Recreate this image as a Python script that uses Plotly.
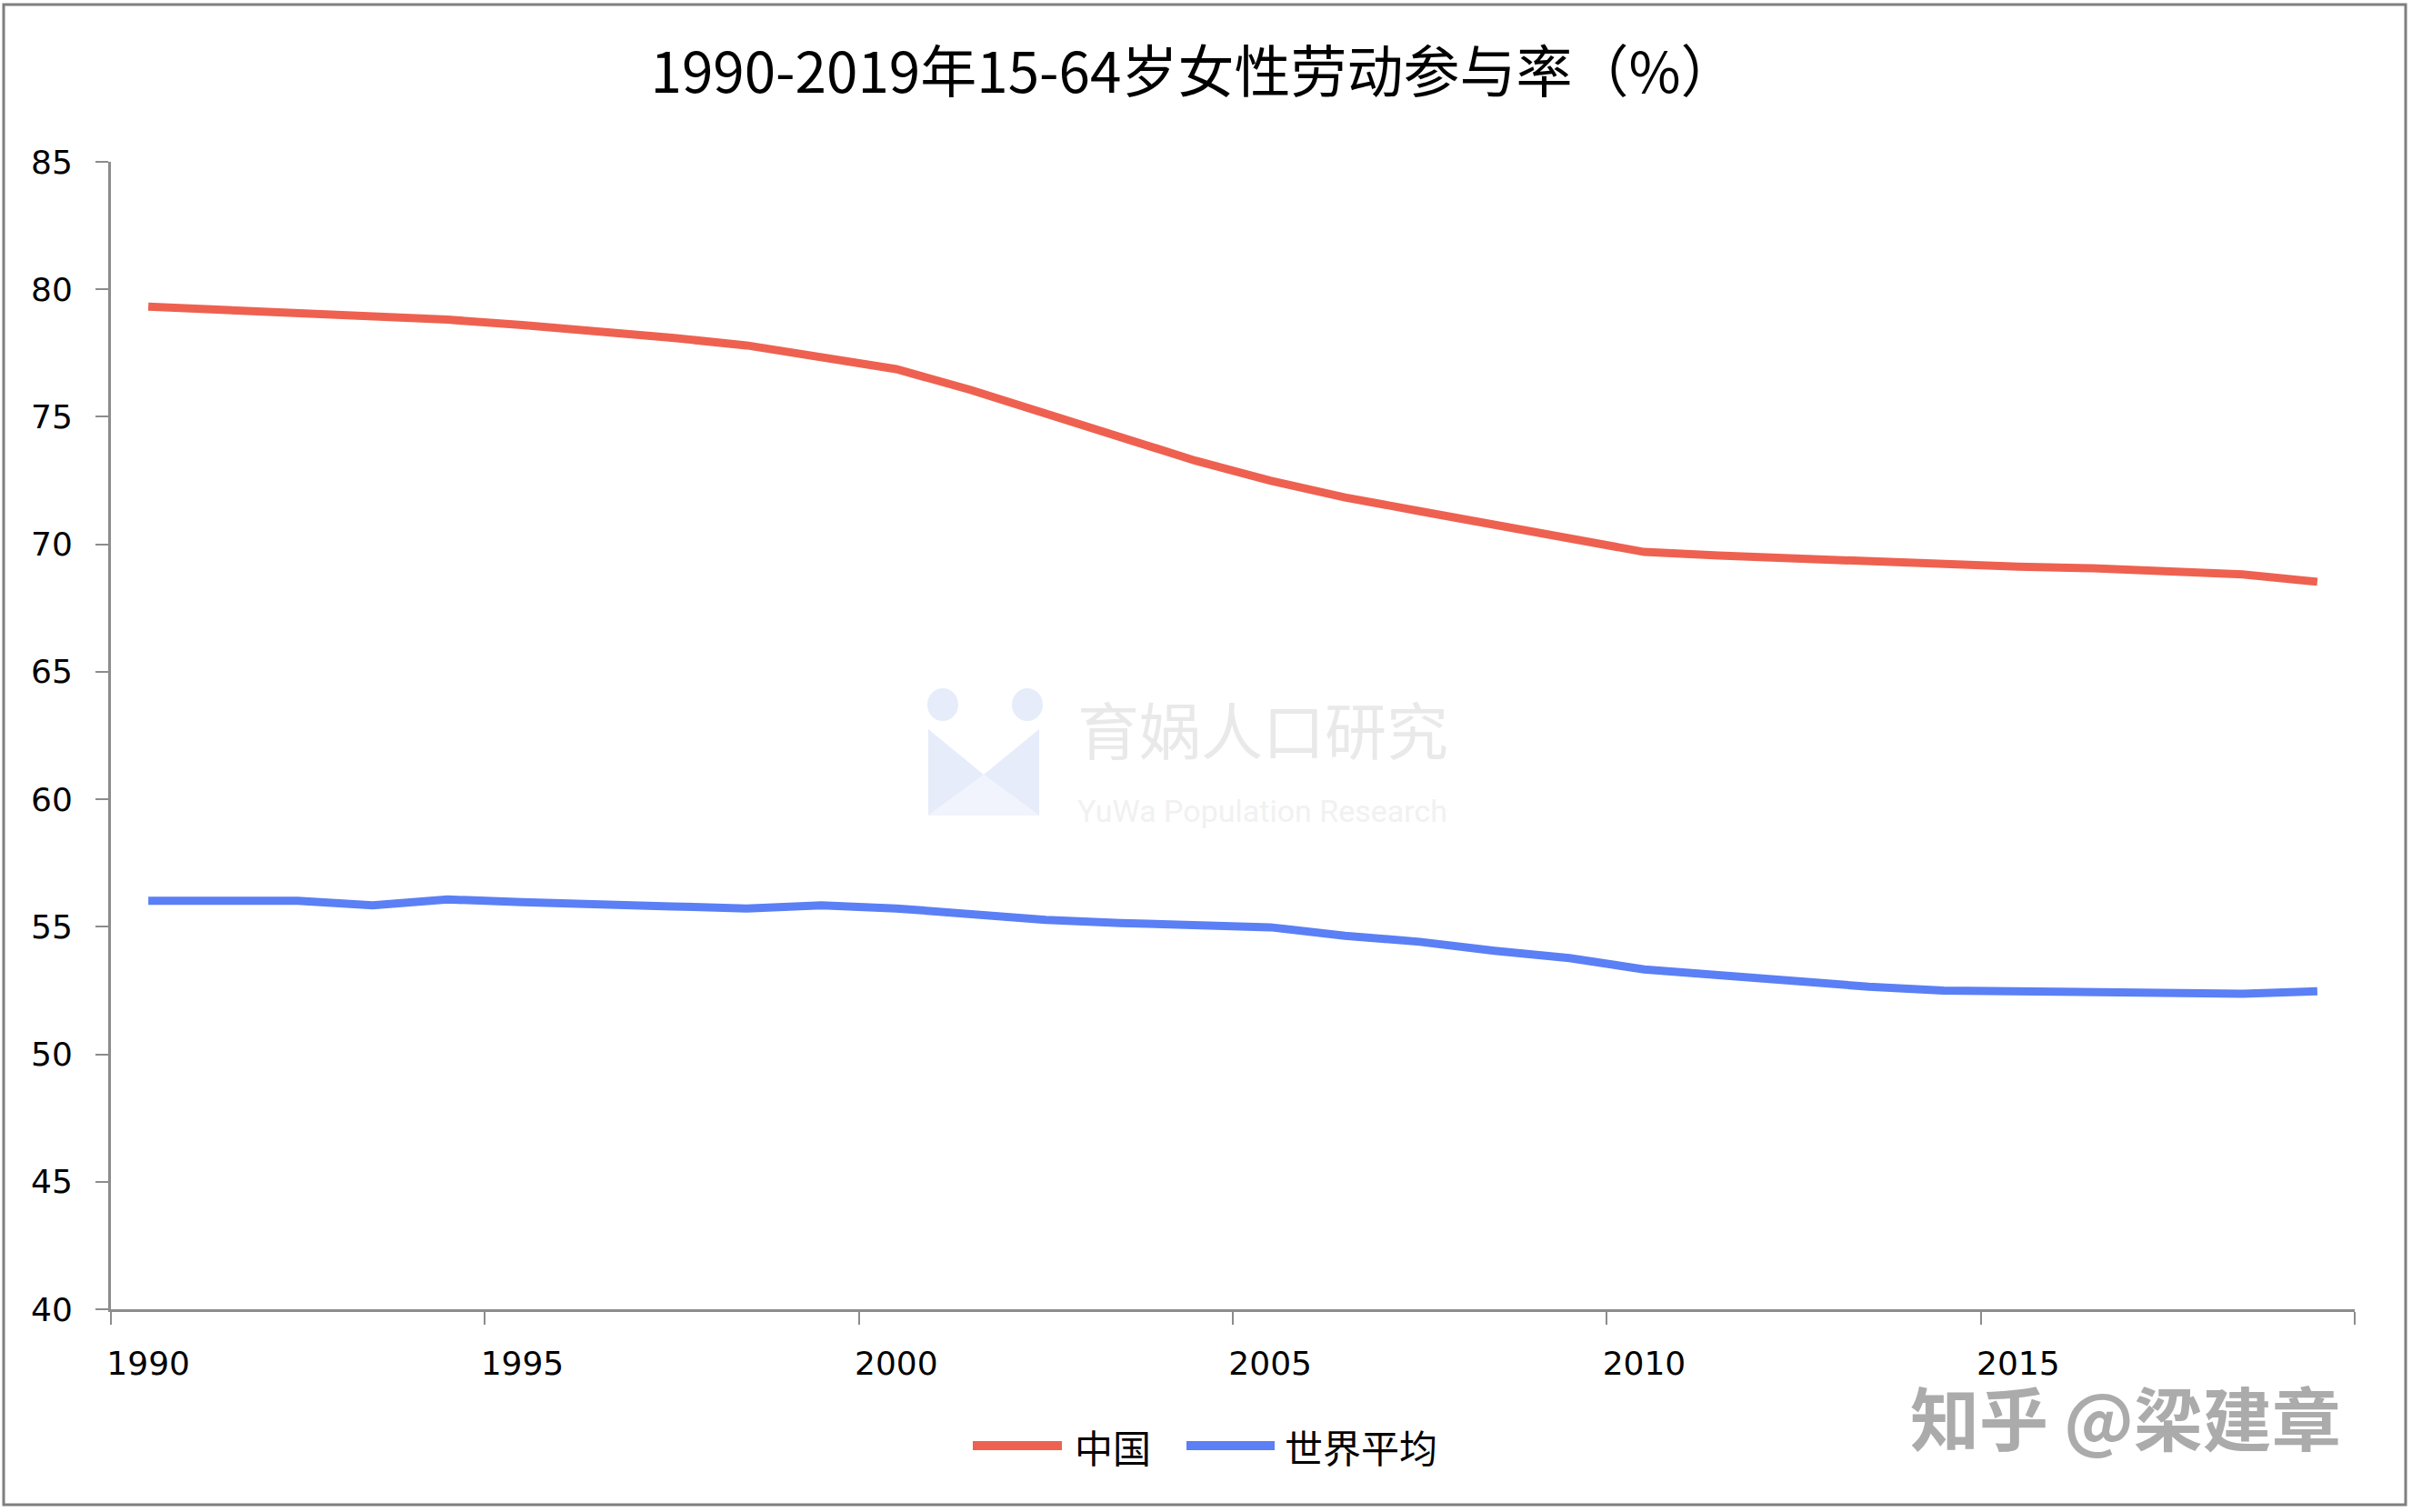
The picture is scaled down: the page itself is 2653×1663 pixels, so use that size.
import plotly.graph_objects as go

years = list(range(1990, 2020))
china = [79.32, 79.20, 79.07, 78.94, 78.81, 78.60, 78.39, 78.10, 77.80, 77.35,
         76.87, 76.05, 75.12, 74.20, 73.28, 72.50, 71.84, 71.30, 70.75, 70.25,
         69.70, 69.56, 69.44, 69.32, 69.20, 69.12, 69.06, 68.94, 68.82, 68.53]
world = [56.02, 56.02, 56.02, 55.84, 56.07, 55.97, 55.86, 55.80, 55.72, 55.84,
         55.72, 55.50, 55.27, 55.15, 55.05, 54.98, 54.65, 54.41, 54.06, 53.77,
         53.33, 53.08, 52.83, 52.65, 52.50, 52.46, 52.42, 52.40, 52.37, 52.47]
series_names = ["中国", "世界平均"]
series_colors = ["#EE6150", "#5B7FF5"]
xlabel_years = [1990, 1995, 2000, 2005, 2010, 2015]
y_ticks = [40, 45, 50, 55, 60, 65, 70, 75, 80, 85]
title_text = "1990-2019年15-64岁女性劳动参与率（%）"

W, H = 2653, 1663
L, R, T, B = 122, 63, 178, 223
PW, PH = W - L - R, H - T - B


def px(x):
    return (x - L) / PW


def py(y):
    return (H - B - y) / PH


fig = go.Figure()
for name, vals, col in zip(series_names, [china, world], series_colors):
    fig.add_trace(go.Scatter(x=years, y=vals, mode="lines", name=name,
                             line=dict(color=col, width=9), showlegend=False))

axis_col = "#8C8C8C"
fig.update_layout(
    width=W, height=H,
    margin=dict(l=L, r=R, t=T, b=B),
    paper_bgcolor="white", plot_bgcolor="white",
    title=dict(text=title_text, x=1313 / W, xanchor="center", y=1 - 80 / H, yanchor="middle",
               font=dict(family="Noto Sans CJK SC", size=62, color="black")),
    xaxis=dict(range=[1989.5, 2019.5], tickvals=xlabel_years, ticktext=[str(v) for v in xlabel_years],
               ticks="", showgrid=False, zeroline=False,
               showline=True, linecolor=axis_col, linewidth=3,
               tickfont=dict(family="DejaVu Sans", size=36, color="black"),
               ticklabelstandoff=26,
               minor=dict(tickvals=[1989.5 + 5 * i for i in range(7)], ticks="outside",
                          ticklen=14, tickwidth=2, tickcolor=axis_col, showgrid=False)),
    yaxis=dict(range=[40, 85], tickvals=y_ticks, ticks="outside", ticklen=14, tickwidth=2,
               tickcolor=axis_col, showgrid=False, zeroline=False,
               showline=True, linecolor=axis_col, linewidth=3,
               tickfont=dict(family="DejaVu Sans", size=36, color="black"),
               ticklabelstandoff=18),
    showlegend=False,
)

# custom legend (line samples + labels)
legend_items = [(1070, 1168, 1180), (1305, 1402, 1411)]
for (lx0, lx1, tx), name, col in zip(legend_items, series_names, series_colors):
    fig.add_shape(type="line", xref="paper", yref="paper", x0=px(lx0), x1=px(lx1),
                  y0=py(1590), y1=py(1590), line=dict(color=col, width=10))
    fig.add_annotation(text=name, xref="paper", yref="paper", x=px(tx), xanchor="left",
                       y=py(1590), yanchor="middle", showarrow=False,
                       font=dict(family="Noto Sans CJK SC", size=42, color="black"))

# outer border
fig.add_shape(type="rect", xref="paper", yref="paper",
              x0=px(4), x1=px(2646), y0=py(1655), y1=py(5),
              line=dict(color="#7F7F7F", width=3), fillcolor="rgba(0,0,0,0)", layer="below")

# watermark logo (faint)
logo = "#E6ECFA"
for cx in (1037, 1130):
    fig.add_shape(type="circle", xref="paper", yref="paper",
                  x0=px(cx - 17), x1=px(cx + 17), y0=py(793), y1=py(757),
                  line=dict(width=0), fillcolor=logo, layer="below")
fig.add_shape(type="path", xref="paper", yref="paper", layer="below",
              path=f"M {px(1021)} {py(802)} L {px(1082)} {py(852)} L {px(1021)} {py(897)} Z",
              line=dict(width=0), fillcolor=logo)
fig.add_shape(type="path", xref="paper", yref="paper", layer="below",
              path=f"M {px(1143)} {py(802)} L {px(1082)} {py(852)} L {px(1143)} {py(897)} Z",
              line=dict(width=0), fillcolor=logo)
fig.add_shape(type="path", xref="paper", yref="paper", layer="below",
              path=f"M {px(1021)} {py(897)} L {px(1082)} {py(852)} L {px(1143)} {py(897)} Z",
              line=dict(width=0), fillcolor="#F1F4FC")

fig.add_annotation(text="育娲人口研究", xref="paper", yref="paper", x=px(1183), xanchor="left",
                   y=py(800), yanchor="middle", showarrow=False,
                   font=dict(family="Noto Sans CJK SC", size=68, color="#E9E9E9"))
fig.add_annotation(text="YuWa Population Research", xref="paper", yref="paper", x=px(1183), xanchor="left",
                   y=py(892), yanchor="middle", showarrow=False,
                   font=dict(family="Roboto", size=34, color="#F1F1F1"))
fig.add_annotation(text="<b>知乎 @梁建章</b>", xref="paper", yref="paper", x=px(2338), xanchor="center",
                   y=py(1557), yanchor="middle", showarrow=False,
                   font=dict(family="Noto Sans CJK SC", size=76, color="#ABABAB"))

fig.write_html("out.html", config={"displayModeBar": False},
               post_script="document.body.style.margin='0';")
